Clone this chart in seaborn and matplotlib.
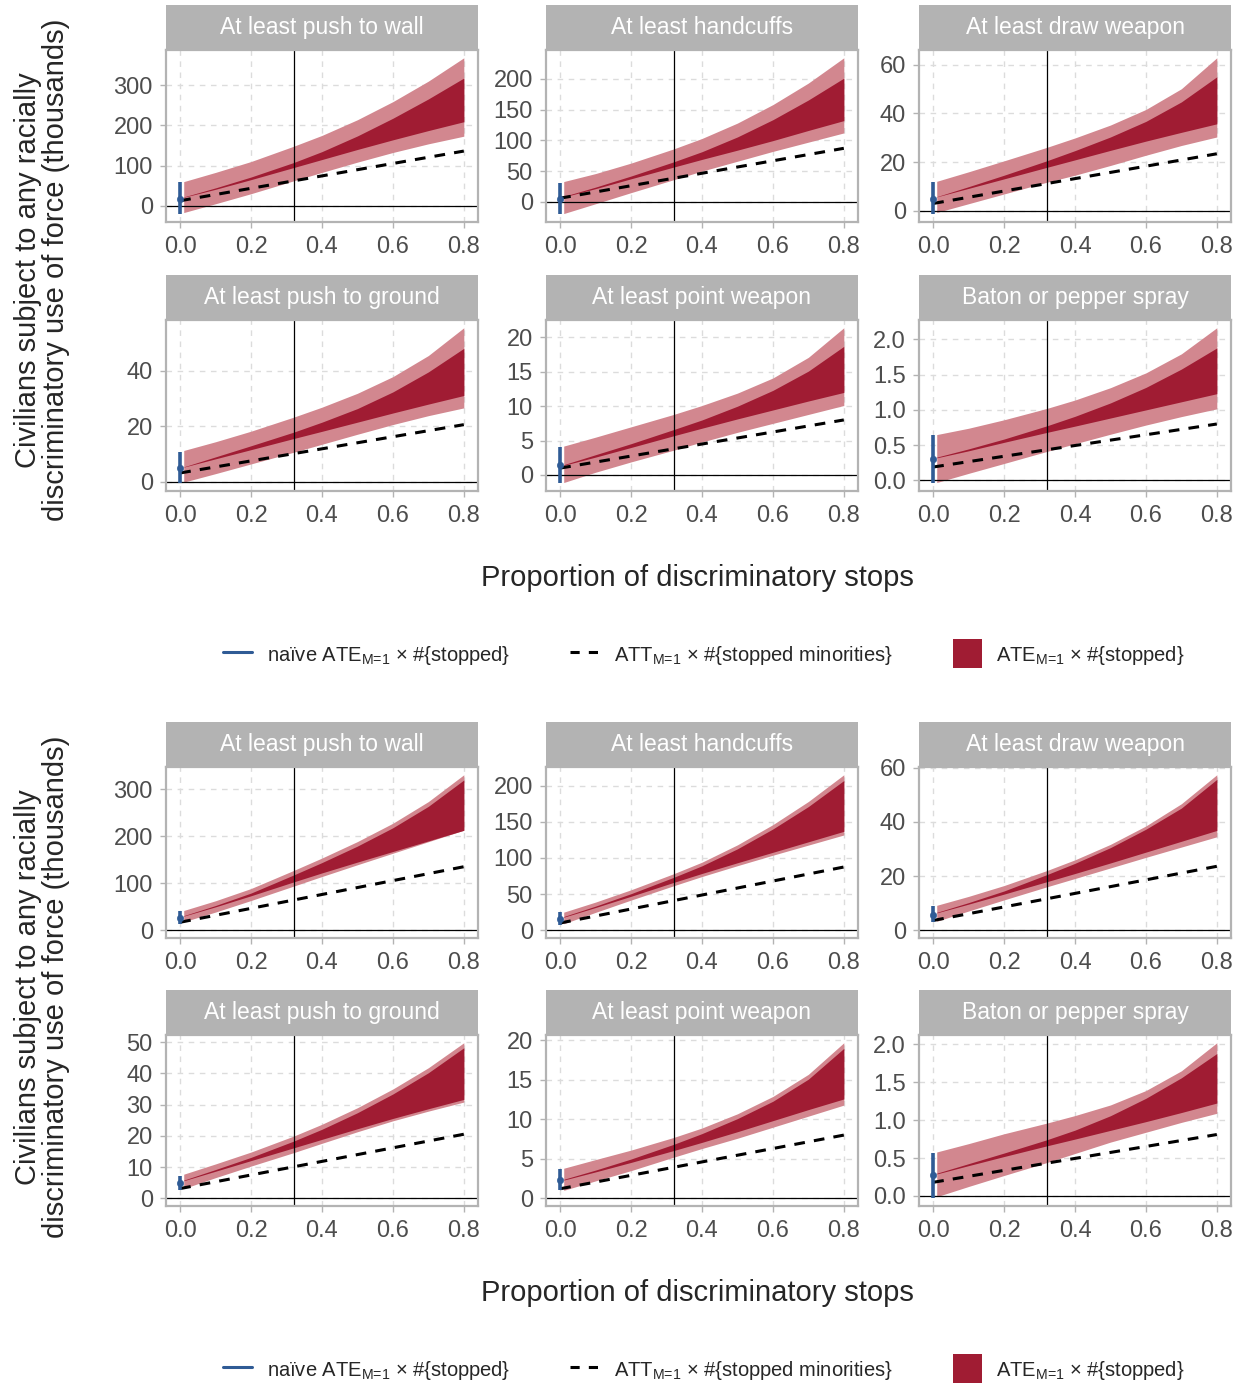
import matplotlib
matplotlib.use('Agg')
import matplotlib.pyplot as plt
import seaborn as sns
from matplotlib.lines import Line2D
from matplotlib.patches import Patch, Rectangle
from matplotlib.legend_handler import HandlerPatch
from matplotlib.ticker import MultipleLocator, FormatStrFormatter

# -----------------------------------------------
# Values
# -----------------------------------------------
x_grid = [0.01, 0.1, 0.2, 0.32, 0.4, 0.5, 0.6, 0.7, 0.8]
att_x = [0.0, 0.8]
cutoff = 0.32

facet_titles = ['At least push to wall', 'At least handcuffs', 'At least draw weapon',
                'At least push to ground', 'At least point weapon', 'Baton or pepper spray']

# top block: one list per facet, in facet_titles order
a_outer_hi = [[60, 83, 110, 148, 175, 214, 259, 310, 368],
              [33, 46, 63, 86, 103, 128, 158, 193, 234],
              [12.1, 16.0, 20.5, 26.0, 29.9, 35.2, 41.6, 50.1, 62.8],
              [11.2, 14.35, 18.15, 23.2, 26.8, 31.8, 37.8, 45.4, 55.4],
              [4.2, 5.5, 7.0, 8.8, 10.1, 11.9, 14.1, 17.1, 21.4],
              [0.65, 0.74, 0.86, 1.02, 1.14, 1.315, 1.525, 1.795, 2.165]]
a_outer_lo = [[-17, 5, 30, 62, 83, 108.5, 132.5, 154, 173],
              [-19, -3, 15, 36, 50, 66, 82, 97, 112],
              [-0.7, 2.9, 6.9, 11.7, 14.6, 18.6, 22.8, 26.8, 30.3],
              [-0.2, 2.86, 6.36, 10.56, 13.44, 17.04, 20.54, 23.74, 26.54],
              [-1.1, 0.4, 1.9, 3.6, 4.8, 6.2, 7.5, 8.8, 10.1],
              [-0.03, 0.10, 0.24, 0.41, 0.52, 0.655, 0.785, 0.905, 1.015]]
a_inner_hi = [[22, 44.5, 71.5, 107.5, 134.7, 173.7, 217.7, 265.7, 317.7],
              [9, 24, 42, 65, 81.5, 105.5, 133.5, 165.5, 201],
              [5.8, 9.9, 14.6, 20.5, 24.7, 30.3, 36.7, 44.7, 55.0],
              [5.3, 8.9, 12.9, 17.8, 21.4, 26.3, 32.3, 39.5, 48.0],
              [1.5, 2.95, 4.55, 6.6, 8.0, 10.0, 12.3, 15.1, 18.7],
              [0.33, 0.447, 0.587, 0.773, 0.909, 1.099, 1.319, 1.579, 1.879]]
a_inner_lo = [[21, 41, 65, 95, 115, 140, 164, 187, 209],
              [8, 21.5, 37.5, 56.5, 69, 84, 99.5, 116, 132],
              [5.7, 9.2, 13.1, 17.8, 20.9, 24.8, 28.6, 32.2, 35.7],
              [5.2, 8.2, 11.5, 15.5, 18.1, 21.4, 24.7, 27.9, 31.0],
              [1.4, 2.6, 4.0, 5.7, 6.8, 8.15, 9.45, 10.75, 12.0],
              [0.32, 0.42, 0.54, 0.68, 0.77, 0.885, 1.0, 1.115, 1.23]]
a_att = [[12.5, 136], [6, 87], [3.0, 23.4], [3.1, 20.5], [1.0, 8.0], [0.19, 0.80]]
a_naive = [17, 4, 4.8, 4.8, 1.4, 0.31]
a_naive_lo = [-21, -20, -1.4, -0.6, -1.2, -0.04]
a_naive_hi = [58, 31, 11.7, 10.6, 4.0, 0.64]
a_ystep = [100, 50, 20, 20, 5, 0.5]

# bottom block
b_outer_hi = [[42, 62.7, 88.7, 127.1, 153.5, 188.5, 227.5, 273.5, 330.5],
              [25, 39, 56, 78.2, 94.2, 118.2, 146.2, 178.2, 215.2],
              [9.2, 12.5, 16.5, 22.0, 26.0, 31.7, 38.5, 46.7, 57.4],
              [7.7, 11.0, 14.8, 19.9, 23.7, 29.0, 35.0, 41.8, 49.8],
              [3.8, 4.9, 6.1, 7.7, 8.9, 10.7, 12.9, 15.7, 19.7],
              [0.58, 0.69, 0.82, 0.96, 1.06, 1.20, 1.39, 1.65, 2.02]]
b_outer_lo = [[18, 38.7, 63.2, 93.8, 114.2, 139.2, 163.7, 188.2, 212.7],
              [9, 24.75, 41.75, 61.55, 74.35, 89.35, 103.85, 117.85, 131.85],
              [3.3, 7.1, 11.2, 16.0, 19.1, 23.0, 26.9, 30.7, 34.5],
              [3.1, 6.6, 10.3, 14.6, 17.6, 21.3, 24.8, 27.9, 30.8],
              [1.0, 2.2, 3.5, 5.2, 6.3, 7.6, 9.0, 10.4, 11.8],
              [-0.01, 0.125, 0.27, 0.44, 0.56, 0.71, 0.84, 0.97, 1.09]]
b_inner_hi = [[31, 52.6, 79.1, 117.5, 143.9, 178.9, 217.9, 263.4, 319.4],
              [19, 33.4, 50.6, 73.2, 89.2, 112.7, 140.2, 171.2, 207.2],
              [6.6, 10.2, 14.5, 20.5, 24.7, 30.5, 37.3, 45.1, 55.7],
              [5.8, 9.2, 13.1, 18.3, 22.1, 27.4, 33.4, 40.2, 48.2],
              [2.4, 3.57, 4.97, 6.83, 8.19, 10.09, 12.29, 15.09, 18.99],
              [0.30, 0.426, 0.566, 0.74, 0.868, 1.058, 1.288, 1.558, 1.878]]
b_inner_lo = [[30, 49.8, 73.3, 102.7, 121.9, 144.9, 167.4, 189.9, 212.4],
              [18, 31.5, 47, 66.2, 78.6, 93.4, 107.9, 122.4, 136.9],
              [6.4, 9.64, 13.34, 17.9, 20.94, 24.84, 28.84, 32.84, 36.84],
              [5.6, 8.66, 12.06, 16.14, 18.86, 22.26, 25.56, 28.66, 31.66],
              [2.3, 3.34, 4.54, 6.04, 7.08, 8.43, 9.83, 11.23, 12.58],
              [0.29, 0.40, 0.52, 0.66, 0.75, 0.865, 0.98, 1.10, 1.225]]
b_att = [[17, 135], [10, 87.5], [3.6, 23.6], [3.1, 20.5], [1.2, 8.0], [0.18, 0.81]]
b_naive = [26, 15.5, 5.8, 5.0, 2.3, 0.28]
b_naive_lo = [14, 7.7, 2.9, 2.6, 1.0, -0.03]
b_naive_hi = [40, 24.6, 8.8, 7.2, 3.7, 0.57]
b_ystep = [100, 50, 20, 10, 5, 0.5]

# -----------------------------------------------
# Style
# -----------------------------------------------
sns.set_theme(style='white')
plt.rcParams['font.family'] = ['Liberation Sans', 'DejaVu Sans']
plt.rcParams['mathtext.fontset'] = 'custom'
plt.rcParams['mathtext.rm'] = 'Liberation Sans'
plt.rcParams['mathtext.default'] = 'regular'

DARK = '#A01C33'
LIGHT = '#D2878F'
BLUE = '#2F5B95'
BORDER = '#B3B3B3'
GRID = '#DCDCDC'
TICKTXT = '#4D4D4D'

W, H = 1244, 1387
fig = plt.figure(figsize=(W / 100, H / 100), dpi=100)

col_left = [166, 546, 919]
panel_w = 312
# (strip top, panel top, panel bottom) in pixels
a_rows = [(5, 50, 222), (275, 320, 491)]
b_rows = [(722, 767, 938), (990, 1035, 1206)]


def px_box(left, top, width, height):
    return [left / W, 1 - (top + height) / H, width / W, height / H]


def draw_block(rows, outer_hi, outer_lo, inner_hi, inner_lo, att, naive, naive_lo, naive_hi, ystep):
    for i in range(6):
        r, c = divmod(i, 3)
        s_top, p_top, p_bot = rows[r]
        ax = fig.add_axes(px_box(col_left[c], p_top, panel_w, p_bot - p_top))
        ax.set_axisbelow(True)
        ax.grid(True, color=GRID, linestyle=(0, (4, 4)), linewidth=1.0)

        ax.fill_between(x_grid, outer_lo[i], outer_hi[i], color=LIGHT, linewidth=0)
        ax.fill_between(x_grid, inner_lo[i], inner_hi[i], color=DARK, linewidth=0)
        ax.axhline(0, color='black', linewidth=0.9)
        ax.axvline(cutoff, color='black', linewidth=0.9)
        sns.lineplot(x=att_x, y=att[i], ax=ax, color='black',
                     linestyle=(0, (3.5, 3)), linewidth=2.2)
        ax.vlines(0, naive_lo[i], naive_hi[i], color=BLUE, linewidth=2.6)
        sns.scatterplot(x=[0], y=[naive[i]], ax=ax, color=BLUE, s=22,
                        edgecolor=BLUE, zorder=5)

        ax.margins(x=0.05, y=0.05)
        ax.set_xticks([0.0, 0.2, 0.4, 0.6, 0.8])
        ax.xaxis.set_major_formatter(FormatStrFormatter('%.1f'))
        ax.yaxis.set_major_locator(MultipleLocator(ystep[i]))
        ax.yaxis.set_major_formatter(FormatStrFormatter('%.1f' if ystep[i] < 1 else '%d'))
        ax.set_xlabel('')
        ax.set_ylabel('')
        ax.tick_params(axis='both', length=4, width=1, color=BORDER,
                       labelcolor=TICKTXT, labelsize=17, left=True, bottom=True)
        ax.tick_params(axis='x', pad=6)
        ax.tick_params(axis='y', pad=5.5)
        for sp in ax.spines.values():
            sp.set_color(BORDER)
            sp.set_linewidth(1.6)

        # facet strip
        sax = fig.add_axes(px_box(col_left[c], s_top, panel_w, p_top - s_top))
        sax.set_facecolor(BORDER)
        sax.set_xticks([])
        sax.set_yticks([])
        for sp in sax.spines.values():
            sp.set_visible(False)
        sax.text(0.5, 0.5, facet_titles[i], ha='center', va='center',
                 color='white', fontsize=16.5, transform=sax.transAxes)


def square_patch(legend, orig_handle, xdescent, ydescent, width, height, fontsize):
    s = height * 1.4
    return Rectangle((-xdescent + (width - s) / 2, -ydescent + (height - s) / 2), s, s)


def block_labels(ylab_y, xlab_y, leg_y):
    fig.text(0.034, ylab_y, 'Civilians subject to any racially\ndiscriminatory use of force (thousands)',
             rotation=90, ha='center', va='center', fontsize=21, linespacing=1.0)
    fig.text(0.561, xlab_y, 'Proportion of discriminatory stops',
             ha='center', va='center', fontsize=21)
    handles = [Line2D([], [], color=BLUE, linewidth=2.2),
               Line2D([], [], color='black', linewidth=2.2, linestyle=(0, (3, 3))),
               Patch(facecolor=DARK, edgecolor='none')]
    labels = [r'naïve ATE$_{\text{M=1}}$ × #{stopped}',
              r'ATT$_{\text{M=1}}$ × #{stopped minorities}',
              r'ATE$_{\text{M=1}}$ × #{stopped}']
    fig.legend(handles, labels, loc='center', bbox_to_anchor=(0.566, leg_y), ncol=3,
               frameon=False, fontsize=14.5, handlelength=1.45, handleheight=1.2,
               columnspacing=3.0, handletextpad=0.7,
               handler_map={Patch: HandlerPatch(patch_func=square_patch)})


draw_block(a_rows, a_outer_hi, a_outer_lo, a_inner_hi, a_inner_lo, a_att,
           a_naive, a_naive_lo, a_naive_hi, a_ystep)
block_labels(1 - 270 / H, 1 - 578 / H, 1 - 655 / H)

draw_block(b_rows, b_outer_hi, b_outer_lo, b_inner_hi, b_inner_lo, b_att,
           b_naive, b_naive_lo, b_naive_hi, b_ystep)
block_labels(1 - 987 / H, 1 - 1293 / H, 1 - 1370 / H)

fig.savefig('out.png', dpi=100)
print("Saved: out.png")
